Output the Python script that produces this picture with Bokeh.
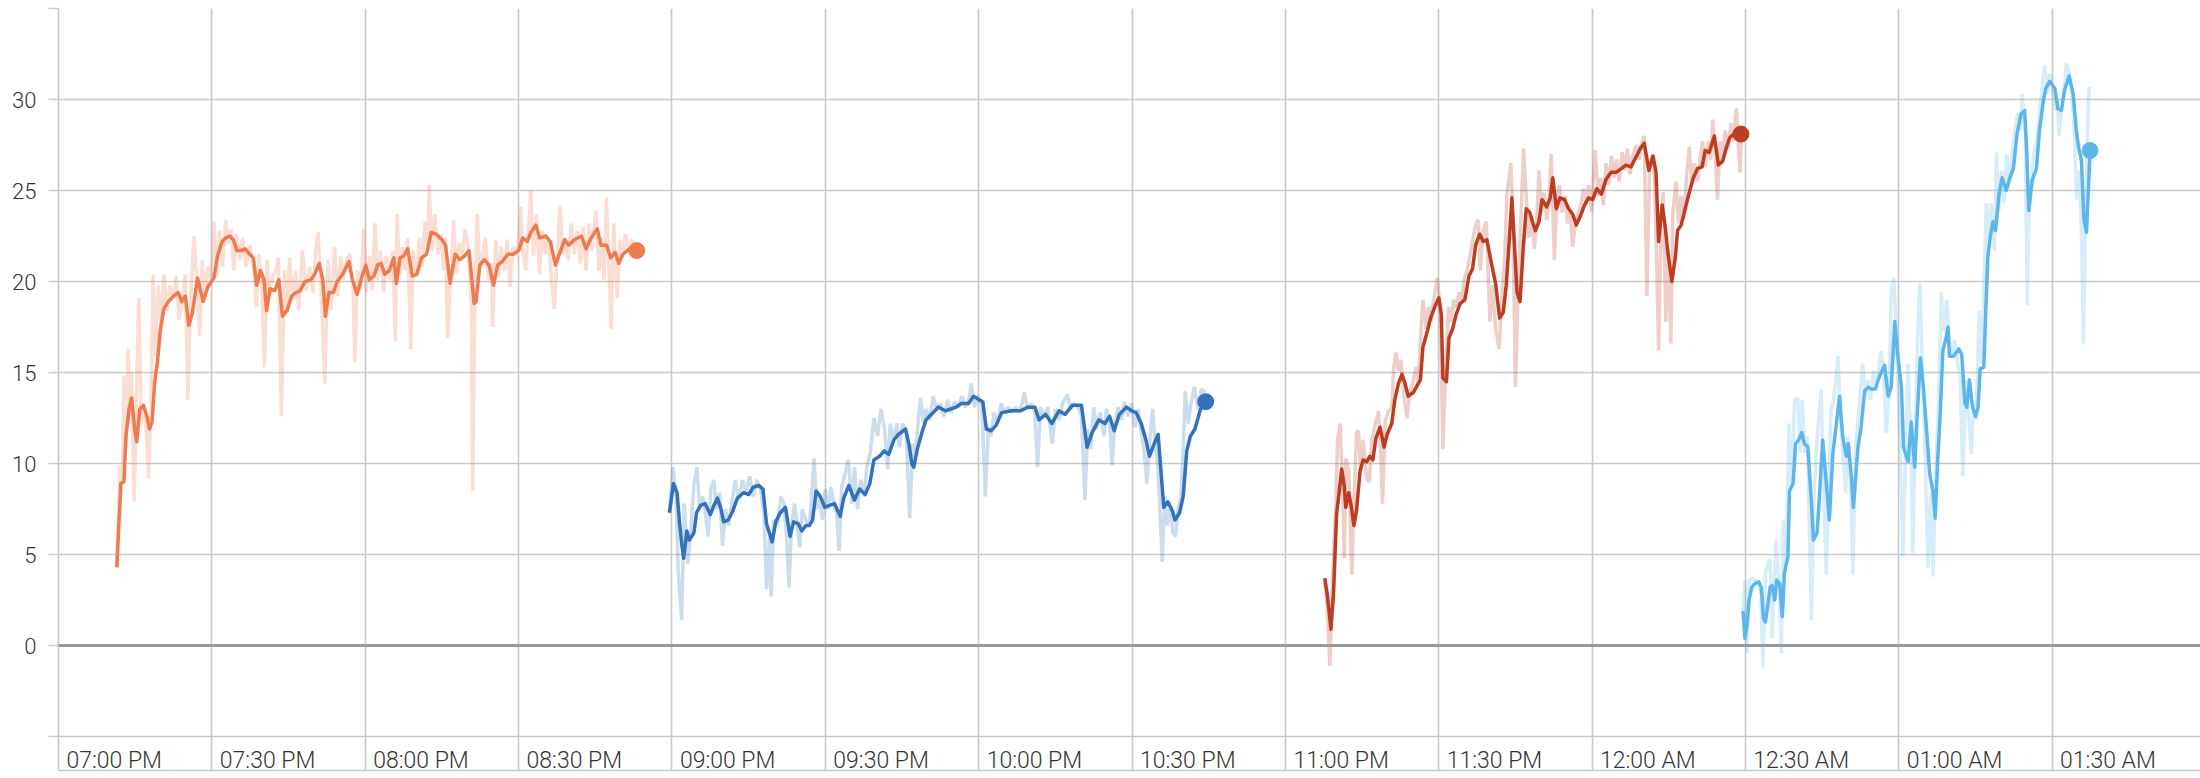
import pandas as pd
from bokeh.plotting import figure
from bokeh.models import Range1d, FixedTicker, Span
from bokeh.embed import file_html
from bokeh.resources import INLINE

# ---------------- data ----------------
START = pd.Timestamp("2021-01-01 19:00")   # 07:00 PM (date not shown in the chart)

tick_minutes = [0, 30, 60, 90, 120, 150, 180, 210, 240, 270, 300, 330, 360, 390]
tick_labels = ["07:00 PM", "07:30 PM", "08:00 PM", "08:30 PM", "09:00 PM", "09:30 PM",
               "10:00 PM", "10:30 PM", "11:00 PM", "11:30 PM", "12:00 AM", "12:30 AM",
               "01:00 AM", "01:30 AM"]
y_ticks = [-5, 0, 5, 10, 15, 20, 25, 30, 35]
y_tick_labels = ["", "0", "5", "10", "15", "20", "25", "30", ""]

# (minutes after 07:00 PM, value)
s1_smooth = [(11.4,4.3),(12.2,8.9),(12.8,9.0),(13.2,11.5),(13.8,13.0),(14.3,13.6),(14.9,11.9),(15.3,11.2),
    (15.9,13.0),(16.6,13.2),(17.3,12.6),(17.8,11.9),(18.3,12.3),(18.8,14.4),(19.4,15.7),(19.9,17.3),
    (20.6,18.5),(21.5,18.9),(22.5,19.2),(23.4,19.4),(24.1,18.9),(24.8,19.2),(25.5,17.6),(26.2,18.3),
    (27.2,20.2),(28.3,18.9),(29.2,19.7),(30.4,20.2),(31.1,21.4),(32.0,22.2),(32.7,22.4),(33.5,22.5),
    (34.2,22.3),(34.9,21.7),(35.8,21.7),(36.5,21.8),(37.4,21.5),(38.1,21.3),(38.8,19.8),(39.5,20.6),
    (40.2,20.1),(40.7,18.4),(41.4,19.6),(42.3,19.5),(43.1,20.1),(43.8,18.1),(44.7,18.4),(45.6,19.2),
    (46.5,19.4),(47.3,19.5),(48.2,20.0),(49.4,20.1),(50.1,20.4),(51.0,21.0),(51.7,20.1),(52.2,18.1),
    (52.9,19.4),(53.8,19.4),(54.5,20.0),(55.6,20.4),(56.8,21.1),(57.5,20.1),(58.4,19.3),(59.4,20.3),
    (60.1,20.9),(60.8,20.1),(61.7,20.3),(62.4,20.9),(63.1,21.0),(63.8,20.4),(64.7,20.6),(65.6,21.3),
    (66.1,19.9),(66.8,21.3),(67.5,21.4),(68.3,21.8),(69.2,20.3),(70.1,20.4),(71.0,21.3),(72.0,21.5),
    (72.9,22.7),(73.9,22.6),(75.0,22.3),(75.7,22.0),(76.6,19.9),(77.6,21.5),(78.5,21.2),(79.4,21.4),
    (80.3,21.7),(81.3,18.8),(81.7,18.9),(82.4,20.9),(83.3,21.2),(84.2,20.9),(85.1,19.8),(85.9,20.9),
    (86.8,21.1),(87.9,21.5),(88.9,21.5),(90.0,21.7),(90.8,22.4),(91.7,22.2),(92.4,22.7),(93.4,23.1),
    (94.1,22.4),(95.3,22.5),(96.2,22.2),(97.2,20.9),(98.1,21.6),(99.0,22.3),(99.8,22.0),(100.9,22.3),
    (102.3,22.5),(103.2,21.8),(104.2,22.4),(105.4,22.9),(106.1,22.0),(107.2,22.0),(108.0,21.3),(108.9,21.6),
    (109.6,21.0),(110.4,21.5),(111.7,21.8),(113.1,21.7)]

s1_raw = [(11.4,4.3),(12.0,9.9),(12.5,9.0),(12.8,14.8),(13.2,11.3),(13.6,16.3),(14.1,12.2),(14.3,15.0),
    (14.8,7.9),(15.2,13.3),(15.7,19.1),(16.2,12.2),(16.7,13.3),(17.1,12.2),(17.6,9.2),(18.1,13.3),
    (18.5,20.4),(19.0,15.9),(19.5,19.8),(20.1,17.3),(20.6,20.4),(21.2,18.4),(21.8,19.8),(22.5,19.1),
    (23.0,20.3),(23.6,17.9),(24.3,19.2),(24.8,20.4),(25.3,13.5),(25.8,18.8),(26.5,22.5),(27.1,19.9),
    (27.6,17.0),(28.1,21.2),(28.6,19.1),(29.2,20.8),(29.9,20.1),(30.4,23.3),(31.0,20.3),(31.5,22.8),
    (32.1,20.8),(32.7,23.4),(33.2,22.1),(33.8,22.9),(34.3,20.6),(34.9,22.6),(35.5,21.2),(36.0,22.4),
    (36.7,20.8),(37.4,22.0),(38.1,21.0),(38.7,18.6),(39.2,21.5),(39.8,19.5),(40.3,15.3),(40.8,21.2),
    (41.3,19.2),(41.9,20.3),(42.5,20.6),(43.0,21.3),(43.6,12.6),(44.2,20.6),(44.7,18.3),(45.2,21.3),
    (45.8,19.0),(46.4,20.6),(47.0,18.4),(47.7,21.7),(48.4,19.5),(49.1,20.8),(49.8,19.4),(50.3,21.7),
    (50.8,22.7),(51.4,19.2),(52.1,14.4),(52.7,21.2),(53.3,18.4),(54.0,21.9),(54.6,19.2),(55.2,21.4),
    (55.7,20.1),(56.4,21.2),(57.0,21.5),(57.6,19.5),(58.0,15.6),(58.5,20.6),(59.1,19.5),(59.7,22.9),
    (60.2,19.4),(60.8,21.4),(61.3,19.5),(61.9,23.2),(62.4,20.1),(63.0,21.7),(63.6,19.4),(64.1,21.4),
    (64.8,20.1),(65.4,21.7),(65.9,16.7),(66.2,23.7),(66.8,20.4),(67.3,21.9),(67.8,20.6),(68.3,22.4),
    (68.9,16.3),(69.4,21.7),(70.0,20.3),(70.6,22.4),(71.1,20.8),(71.7,23.3),(72.2,21.9),(72.5,25.3),
    (73.1,21.7),(73.6,23.7),(74.2,21.5),(74.8,22.6),(75.3,20.6),(75.7,22.4),(76.1,16.9),(76.7,20.1),
    (77.3,23.4),(77.8,20.4),(78.4,22.1),(79.0,21.4),(79.5,22.9),(80.2,21.7),(80.8,18.4),(81.0,8.5),
    (81.5,20.1),(81.9,23.7),(82.4,20.6),(83.0,21.5),(83.5,22.4),(84.1,20.1),(84.7,21.0),(84.9,17.5),
    (85.5,22.3),(86.1,20.3),(86.6,21.9),(87.2,20.6),(87.8,22.3),(88.3,19.7),(88.9,21.9),(89.5,21.4),
    (90.0,22.4),(90.4,24.1),(90.8,21.7),(91.4,20.6),(92.0,23.2),(92.4,25.0),(92.9,21.4),(93.5,23.7),
    (94.1,20.4),(94.6,22.8),(95.2,21.5),(95.8,22.4),(96.3,20.6),(97.0,18.5),(97.6,21.7),(98.1,24.2),
    (98.6,21.5),(99.2,22.4),(99.7,21.2),(100.3,23.2),(100.9,21.5),(101.5,22.8),(102.1,21.0),(102.7,23.0),
    (103.2,20.6),(103.8,23.2),(104.3,21.7),(105.1,23.9),(105.7,20.6),(106.2,22.4),(106.7,20.1),(107.2,24.6),
    (107.7,20.6),(108.1,17.4),(108.6,23.2),(109.3,19.1),(109.8,22.3),(110.3,21.4),(110.9,22.6),(111.5,21.7),
    (112.1,22.3),(112.8,21.9)]

s2_smooth = [(119.5,7.3),(120.3,8.9),(121.0,8.4),(121.5,6.7),(121.9,5.6),(122.3,4.8),(122.9,6.3),(123.4,5.8),
    (124.3,6.2),(124.8,7.3),(125.6,7.7),(126.5,7.8),(127.5,7.2),(128.2,7.7),(128.9,8.1),(129.6,7.5),
    (130.1,6.8),(131.0,6.9),(131.9,7.4),(132.8,8.1),(134.0,8.4),(135.0,8.3),(135.9,8.7),(137.0,8.8),
    (137.8,8.6),(138.5,6.7),(139.6,5.7),(140.3,6.8),(141.2,7.3),(142.2,7.6),(143.1,6.0),(143.8,6.8),
    (144.7,6.7),(145.4,6.3),(146.2,6.6),(146.9,6.6),(147.5,6.9),(148.2,8.5),(149.0,8.2),(149.9,7.6),
    (150.8,7.7),(151.8,7.8),(152.9,7.1),(153.6,8.1),(154.6,8.8),(155.7,8.0),(156.7,8.6),(157.8,8.3),
    (158.7,8.9),(159.5,10.2),(160.6,10.4),(161.5,10.7),(162.4,10.5),(163.4,11.3),(164.3,11.6),(165.7,11.9),
    (166.4,11.0),(166.9,10.0),(167.3,9.8),(168.0,10.8),(169.0,11.8),(169.7,12.4),(170.7,12.7),(172.1,13.1),
    (173.5,12.9),(174.5,13.0),(175.6,13.1),(176.6,13.3),(178.0,13.3),(179.0,13.7),(180.1,13.5),(180.8,13.4),
    (181.5,11.9),(182.4,11.8),(183.4,12.1),(184.5,12.8),(186.4,12.9),(188.2,12.9),(189.6,13.1),(191.0,13.1),
    (191.8,12.4),(193.1,12.7),(194.3,12.2),(195.7,12.9),(196.9,12.7),(198.3,13.2),(200.1,13.2),(201.2,10.9),
    (202.2,11.7),(203.5,12.4),(204.7,12.2),(205.6,12.6),(206.5,11.8),(207.5,12.7),(208.9,13.1),(209.9,12.9),
    (210.8,12.8),(211.8,12.2),(212.7,11.3),(213.4,10.4),(214.2,11.0),(215.1,11.6),(215.6,9.8),(216.2,7.6),
    (217.0,7.9),(217.9,7.4),(218.4,6.9),(219.3,7.3),(220.0,8.2),(220.7,10.7),(221.4,11.5),(222.3,11.9),
    (223.4,13.0),(224.4,13.4)]

s2_raw = [(119.5,7.3),(120.2,9.8),(120.8,8.2),(121.2,4.2),(121.9,1.4),(122.4,7.8),(123.1,4.5),(123.7,6.4),
    (124.3,8.9),(124.9,9.8),(125.4,7.5),(126.0,8.2),(126.5,7.3),(127.1,6.0),(127.6,8.6),(128.2,9.1),
    (128.7,7.5),(129.3,8.4),(129.9,5.5),(130.5,7.5),(131.1,6.6),(131.7,7.8),(132.4,9.1),(133.1,8.0),
    (133.8,9.1),(134.5,8.4),(135.2,9.3),(135.9,8.2),(136.6,9.1),(137.3,8.6),(138.0,7.3),(138.5,3.1),
    (139.1,6.0),(139.4,2.7),(139.9,6.9),(140.6,6.6),(141.3,8.2),(141.9,7.8),(142.4,6.0),(142.9,3.2),
    (143.4,6.7),(144.0,7.8),(144.5,6.6),(145.0,5.4),(145.5,7.5),(146.2,6.9),(146.9,6.6),(147.3,8.2),
    (147.8,10.3),(148.3,7.5),(148.9,8.2),(149.4,6.9),(150.0,8.6),(150.6,7.5),(151.1,8.7),(151.7,7.8),
    (152.2,7.3),(152.7,5.2),(153.2,8.7),(153.9,9.5),(154.5,10.2),(155.2,7.8),(155.7,9.8),(156.3,7.5),
    (156.9,9.1),(157.6,8.2),(158.1,9.8),(158.8,10.6),(159.5,12.5),(160.2,11.5),(160.9,13.0),(161.6,11.9),
    (162.2,9.7),(162.7,12.2),(163.4,11.3),(164.0,12.2),(164.5,10.9),(165.1,12.2),(165.8,11.7),(166.5,7.0),
    (167.1,11.1),(167.6,10.4),(168.2,12.4),(168.6,13.6),(169.2,12.2),(169.7,13.0),(170.4,12.4),(171.1,13.7),
    (171.8,13.0),(172.5,13.3),(173.2,12.6),(173.9,13.5),(174.6,12.8),(175.3,13.4),(176.0,13.1),(176.7,13.7),
    (177.4,13.1),(178.1,13.5),(178.5,14.4),(179.2,13.1),(179.9,13.7),(180.6,13.3),(181.3,8.2),(181.9,12.0),
    (182.4,11.5),(183.0,12.8),(183.7,12.2),(184.4,13.3),(185.1,12.8),(185.8,13.1),(186.5,12.8),(187.2,13.1),
    (187.9,12.8),(188.5,13.3),(188.9,13.9),(189.6,13.0),(190.3,13.3),(191.0,12.8),(191.5,9.8),(192.1,13.1),
    (192.8,12.6),(193.5,13.1),(194.4,11.1),(195.0,13.0),(195.7,12.4),(196.4,13.3),(197.3,13.8),(198.0,13.0),
    (198.7,13.3),(199.4,13.1),(200.1,12.6),(200.8,8.0),(201.3,11.9),(201.9,10.8),(202.5,13.1),(203.0,11.9),
    (203.8,12.8),(204.5,11.5),(205.0,13.0),(205.6,12.4),(206.1,9.9),(206.6,12.2),(207.3,13.1),(208.0,12.4),
    (208.5,13.4),(209.2,12.6),(209.9,13.3),(210.6,12.0),(211.2,13.0),(211.9,11.5),(212.4,10.6),(212.9,8.9),
    (213.4,11.1),(214.0,13.0),(214.5,11.1),(215.1,9.7),(215.5,7.1),(215.9,4.6),(216.4,8.2),(216.9,6.6),
    (217.5,7.7),(218.0,6.2),(218.5,6.0),(219.0,7.5),(219.6,8.2),(220.1,11.5),(220.4,14.0),(221.0,12.2),
    (221.5,13.3),(222.2,14.2),(222.9,13.0),(223.6,14.1),(224.3,13.9)]

s3_smooth = [(247.7,3.7),(248.2,2.8),(248.9,0.9),(249.4,2.8),(250.0,7.2),(250.5,8.4),(251.0,9.7),(251.5,8.8),
    (251.8,7.6),(252.4,8.4),(252.9,7.6),(253.4,6.6),(253.9,7.4),(254.6,9.6),(255.2,10.2),(255.9,10.1),
    (256.5,10.4),(257.1,10.2),(257.7,11.4),(258.5,12.0),(259.3,10.9),(259.9,11.6),(260.8,12.2),(261.4,13.5),
    (262.1,14.4),(262.8,14.9),(263.4,14.4),(264.0,13.7),(265.0,13.9),(265.6,14.2),(266.4,14.6),(266.9,16.4),
    (267.6,17.1),(268.4,18.0),(269.2,18.6),(270.0,19.1),(270.5,18.2),(270.8,14.7),(271.5,14.5),(272.0,16.9),
    (272.7,17.4),(273.4,18.2),(274.2,18.8),(275.1,19.0),(275.9,20.3),(276.6,20.7),(277.2,22.0),(278.0,22.6),
    (278.7,22.2),(279.4,22.3),(280.3,21.0),(281.1,19.9),(281.9,18.0),(282.6,18.3),(283.2,19.8),(283.9,22.8),
    (284.3,24.6),(284.8,22.0),(285.3,19.4),(285.9,18.9),(286.5,21.8),(287.1,24.0),(287.8,23.8),(288.3,23.3),
    (288.9,22.8),(289.6,23.3),(290.2,24.5),(291.1,24.1),(291.8,24.6),(292.3,25.7),(293.0,24.0),(293.7,24.6),
    (294.6,24.5),(295.4,24.0),(296.2,23.7),(296.9,23.1),(297.7,23.6),(298.5,24.2),(299.3,24.6),(300.1,24.5),
    (300.9,25.1),(301.8,24.8),(302.7,25.6),(303.7,26.0),(304.7,26.0),(305.7,26.2),(306.6,26.4),(307.6,26.3),
    (308.5,26.8),(309.4,27.3),(310.2,27.6),(311.1,26.1),(311.9,26.9),(312.5,26.0),(313.0,22.2),(313.7,24.2),
    (314.3,23.0),(314.8,21.6),(315.6,20.0),(316.3,21.4),(316.7,22.8),(317.4,23.1),(318.2,24.0),(319.0,24.9),
    (319.8,25.7),(320.6,26.2),(321.5,26.3),(322.1,27.2),(322.9,27.1),(323.9,28.0),(324.7,26.4),(325.5,26.6),
    (326.2,27.3),(326.9,27.9),(328.1,28.2),(329.1,28.1)]

s3_raw = [(247.7,3.7),(248.2,1.9),(248.7,-1.1),(249.2,3.6),(249.8,7.4),(250.2,11.3),(250.7,12.2),(251.2,8.4),
    (251.5,4.8),(251.8,10.3),(252.4,9.6),(253.0,3.9),(253.4,8.0),(253.9,11.7),(254.3,11.8),(254.7,9.6),
    (255.2,11.3),(255.9,9.2),(256.4,9.0),(256.9,11.3),(257.5,12.1),(258.2,12.9),(258.6,10.9),(259.0,7.8),
    (259.5,12.3),(260.2,12.9),(260.8,13.1),(261.2,15.3),(261.6,16.1),(262.1,15.1),(262.6,15.7),(263.2,13.7),
    (263.8,12.5),(264.3,13.9),(265.0,14.5),(265.5,15.3),(266.0,14.3),(266.6,17.8),(266.9,19.0),(267.5,17.4),
    (268.0,18.6),(268.5,17.8),(269.0,19.0),(269.7,20.2),(270.3,18.6),(270.8,10.8),(271.4,15.7),(271.9,18.6),
    (272.4,17.8),(272.9,19.0),(273.4,18.6),(274.0,19.4),(274.5,19.0),(275.0,20.2),(275.5,20.6),(276.1,21.4),
    (276.6,22.2),(277.1,23.0),(277.7,23.4),(278.1,20.6),(278.7,22.8),(279.3,23.3),(280.0,17.8),(280.5,19.8),
    (281.1,17.4),(281.8,16.3),(282.3,19.0),(282.9,21.4),(283.3,24.7),(284.1,26.5),(284.5,23.2),(285.0,14.2),
    (285.5,19.4),(286.1,23.8),(286.6,27.3),(287.1,24.7),(287.6,22.4),(288.2,23.6),(288.7,21.8),(289.1,23.2),
    (289.6,26.1),(290.1,23.8),(290.6,24.9),(291.1,23.4),(291.5,24.2),(292.0,27.0),(292.6,21.2),(293.1,24.5),
    (293.6,25.3),(294.1,23.8),(294.7,24.7),(295.2,23.2),(295.7,23.8),(296.2,21.9),(296.7,23.2),(297.3,23.8),
    (297.8,24.2),(298.3,25.1),(298.8,24.2),(299.3,25.3),(299.9,23.8),(300.3,25.9),(300.6,27.2),(301.2,24.7),
    (301.7,25.7),(302.2,24.2),(302.7,26.5),(303.2,25.3),(303.8,26.9),(304.3,25.7),(304.8,26.7),(305.3,25.5),
    (305.9,27.1),(306.4,26.1),(306.9,27.3),(307.4,25.9),(307.9,26.9),(308.6,27.5),(309.2,26.7),(309.8,27.7),
    (310.2,28.0),(310.7,19.2),(311.2,25.9),(311.7,26.9),(312.2,25.5),(312.6,21.4),(313.0,16.2),(313.5,23.4),
    (313.9,24.9),(314.4,17.8),(314.9,21.8),(315.4,16.6),(315.8,23.8),(316.4,25.5),(316.9,23.2),(317.4,24.7),
    (317.9,23.4),(318.5,25.9),(319.0,27.4),(319.5,25.3),(320.0,26.5),(320.6,25.5),(321.1,26.7),(321.6,27.7),
    (322.1,26.3),(322.7,27.7),(323.2,26.7),(323.6,28.9),(324.1,26.9),(324.5,24.5),(325.0,27.7),(325.5,26.9),
    (326.0,28.3),(326.6,27.3),(327.1,28.7),(327.6,27.7),(328.2,29.5),(328.9,26.0),(329.2,27.9)]

s4_smooth = [(329.5,1.9),(329.9,0.4),(330.3,1.2),(330.7,2.5),(331.2,3.2),(331.8,3.4),(332.6,3.5),(333.1,3.2),
    (333.5,1.5),(333.9,1.3),(334.4,2.3),(334.8,3.2),(335.2,3.3),(335.7,2.5),(336.1,3.6),(336.7,3.4),
    (337.2,1.6),(337.6,4.0),(338.3,4.9),(338.6,8.5),(339.3,8.9),(339.8,11.1),(340.4,11.3),(341.0,11.7),
    (341.5,11.1),(342.2,10.9),(342.9,7.8),(343.3,5.8),(344.0,6.2),(344.5,8.4),(345.1,11.3),(345.8,8.9),
    (346.4,6.9),(347.1,10.6),(347.7,12.0),(348.4,13.7),(349.0,11.5),(349.7,10.4),(350.1,11.1),(350.7,9.3),
    (351.1,7.6),(352.0,10.9),(352.6,12.0),(353.3,14.0),(354.0,14.2),(354.6,14.1),(355.4,14.1),(356.2,14.8),
    (357.2,15.4),(357.9,13.7),(358.5,14.2),(359.2,17.8),(359.8,15.9),(360.5,14.2),(360.9,10.9),(361.8,10.1),
    (362.4,12.3),(363.1,9.8),(363.5,12.2),(364.2,15.8),(364.8,14.2),(365.5,11.5),(366.0,9.5),(366.7,8.4),
    (367.1,7.0),(367.6,10.2),(368.1,12.8),(368.6,16.2),(369.3,17.0),(369.6,17.5),(369.9,15.9),(370.7,15.9),
    (371.7,16.3),(372.3,16.0),(372.9,13.3),(373.3,13.1),(373.8,14.6),(374.4,13.1),(375.0,12.6),(375.5,13.1),
    (375.9,15.2),(376.6,15.3),(377.0,18.4),(377.4,21.4),(377.9,22.5),(378.4,23.3),(378.9,22.8),(379.6,24.8),
    (380.2,25.7),(381.0,25.0),(381.7,25.7),(382.4,26.2),(383.1,28.1),(383.9,29.2),(384.6,29.4),(385.0,27.2),
    (385.4,23.9),(386.1,25.6),(386.9,26.2),(387.5,28.3),(388.2,29.8),(388.7,30.6),(389.5,31.0),(390.5,30.6),
    (391.1,29.5),(391.8,29.4),(392.4,30.5),(393.3,31.3),(394.1,30.3),(394.7,28.3),(395.2,27.3),(395.7,26.7),
    (396.2,23.4),(396.7,22.7),(397.4,27.2)]

s4_raw = [(329.5,1.9),(329.9,3.6),(330.3,-0.4),(330.7,3.6),(331.2,3.7),(331.8,3.6),(332.5,3.4),(333.0,2.9),
    (333.4,-1.2),(333.9,4.0),(334.4,4.5),(334.8,4.8),(335.2,0.4),(335.6,3.4),(336.0,5.8),(336.5,3.6),
    (337.0,-0.4),(337.4,6.9),(337.9,4.5),(338.5,12.2),(339.0,8.9),(339.6,13.5),(340.2,13.6),(340.7,10.6),
    (341.1,13.5),(341.6,10.6),(342.1,11.5),(342.5,6.2),(342.9,1.4),(343.3,7.3),(343.8,10.6),(344.4,12.8),
    (344.8,14.1),(345.3,8.4),(345.8,3.9),(346.2,8.4),(346.7,12.8),(347.2,13.5),(347.6,14.4),(348.1,15.9),
    (348.5,12.8),(349.0,10.6),(349.6,8.4),(350.1,11.5),(350.6,8.4),(351.0,3.9),(351.5,10.9),(352.0,12.4),
    (352.4,13.7),(352.9,15.5),(353.5,13.7),(354.0,14.6),(354.5,13.5),(355.0,15.1),(355.6,14.2),(356.1,15.3),
    (356.5,16.2),(357.0,15.1),(357.5,11.7),(358.1,13.7),(358.5,19.5),(359.0,20.2),(359.5,17.3),(360.0,12.8),
    (360.5,8.4),(360.8,4.9),(361.3,10.6),(361.8,15.5),(362.4,10.6),(362.7,5.1),(363.3,12.8),(363.7,17.3),
    (364.1,19.9),(364.6,15.1),(365.1,10.6),(365.7,4.3),(366.2,8.4),(366.7,3.8),(367.2,9.5),(367.7,12.8),
    (368.3,19.4),(368.7,17.3),(369.4,19.0),(369.9,16.6),(370.4,15.9),(370.9,16.8),(371.5,15.5),(372.0,14.6),
    (372.5,9.3),(373.1,14.6),(373.6,12.8),(374.2,10.5),(374.6,13.3),(375.1,12.4),(375.7,18.4),(376.2,15.5),
    (376.7,20.3),(377.1,24.3),(377.6,22.3),(378.1,24.3),(378.7,21.7),(379.1,27.1),(379.6,23.9),(380.1,26.1),
    (380.6,24.3),(381.1,27.0),(381.7,25.4),(382.2,27.2),(382.7,28.3),(383.2,29.2),(383.8,28.3),(384.1,30.3),
    (384.7,28.3),(385.1,18.7),(385.4,23.4),(386.0,26.1),(386.5,27.2),(387.0,27.8),(387.5,29.2),(388.1,30.9),
    (388.5,31.9),(389.0,30.3),(389.5,31.4),(390.0,30.7),(390.6,29.4),(391.0,30.0),(391.3,28.0),(391.8,29.4),
    (392.4,30.9),(392.8,32.0),(393.3,31.4),(393.8,30.3),(394.3,28.3),(394.8,24.5),(395.4,26.1),(395.8,21.7),
    (396.1,16.6),(396.5,23.9),(396.9,28.3),(397.2,30.7)]

series_colors = ["#EE7A4E", "#3172B8", "#BC3D22", "#5DB6E9"]
series_smooth = [s1_smooth, s2_smooth, s3_smooth, s4_smooth]
series_raw = [s1_raw, s2_raw, s3_raw, s4_raw]

# ---------------- figure ----------------
FONT = "Roboto Light, Roboto"
GRID = "#c9c9c9"
X_END_MIN = 419.0          # right edge of the plot area (about 01:59 AM)
LABEL_SHIFT_MIN = 10.9     # labels sit just right of their boundary line


def ms(minutes):
    return int(round((START + pd.Timedelta(minutes=minutes)).value / 1e6))


p = figure(width=2200, height=776, x_axis_type="datetime",
           x_range=Range1d(ms(0), ms(X_END_MIN)), y_range=Range1d(-6.86, 35),
           output_backend="svg", toolbar_location=None,
           min_border_left=58, min_border_right=0, min_border_top=8, min_border_bottom=4)
p.outline_line_color = None
p.background_fill_color = "white"
p.border_fill_color = "white"

# grids
p.xgrid.ticker = FixedTicker(ticks=[ms(m) for m in tick_minutes])
p.ygrid.ticker = FixedTicker(ticks=y_ticks)
for g in (p.xgrid, p.ygrid):
    g.grid_line_color = GRID
    g.grid_line_width = 1.6

# x axis: labels inside the band between the -5 line and the bottom line
label_ticks = [ms(m + LABEL_SHIFT_MIN) for m in tick_minutes]
xa = p.xaxis[0]
xa.ticker = FixedTicker(ticks=label_ticks)
xa.major_label_overrides = {t: lab for t, lab in zip(label_ticks, tick_labels)}
xa.axis_line_color = GRID
xa.axis_line_width = 1.6
xa.major_tick_out = 0
xa.major_tick_in = 0
xa.minor_tick_out = 0
xa.minor_tick_in = 0
xa.major_label_standoff = -24
xa.major_label_text_font = FONT
xa.major_label_text_font_size = "23px"
xa.major_label_text_color = "#333333"

# y axis
ya = p.yaxis[0]
ya.ticker = FixedTicker(ticks=y_ticks)
ya.major_label_overrides = {t: lab for t, lab in zip(y_ticks, y_tick_labels)}
ya.axis_line_color = GRID
ya.axis_line_width = 1.6
ya.major_tick_line_color = GRID
ya.major_tick_line_width = 1.6
ya.major_tick_out = 10
ya.major_tick_in = 0
ya.minor_tick_out = 0
ya.minor_tick_in = 0
ya.major_label_standoff = 12
ya.major_label_text_font = FONT
ya.major_label_text_font_size = "22px"
ya.major_label_text_color = "#333333"

# zero line
p.add_layout(Span(location=0, dimension="width", line_color="#999999", line_width=3))

for color, raw in zip(series_colors, series_raw):
    rx = [ms(m) for m, _ in raw]
    ry = [v for _, v in raw]
    p.line(rx, ry, line_color=color, line_alpha=0.25, line_width=3.5)
for color, smooth in zip(series_colors, series_smooth):
    sx = [ms(m) for m, _ in smooth]
    sy = [v for _, v in smooth]
    p.line(sx, sy, line_color=color, line_width=3.5, line_join="round")
    p.scatter([sx[-1]], [sy[-1]], size=16, fill_color=color, line_color=color)

open("out.html", "w").write(file_html(p, INLINE))
